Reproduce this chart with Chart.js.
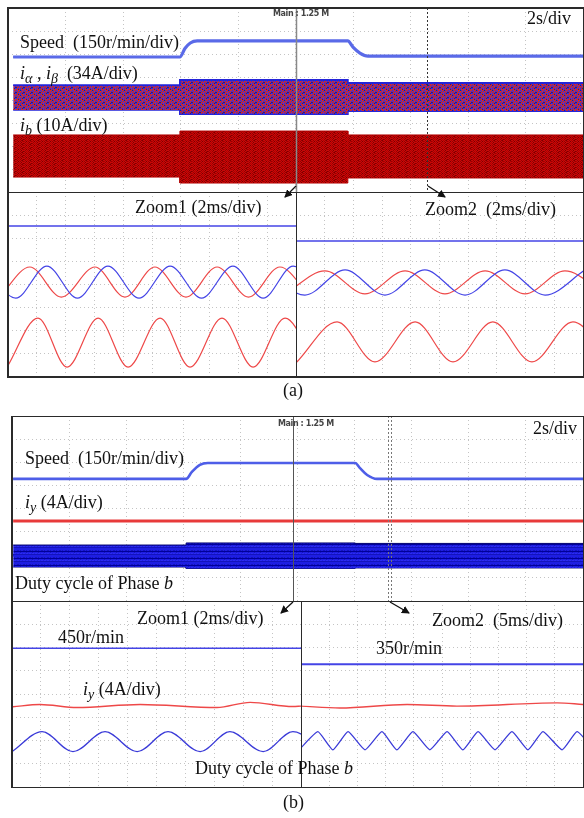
<!DOCTYPE html>
<html>
<head>
<meta charset="utf-8">
<script src="https://cdn.jsdelivr.net/npm/chart.js@4.4.0/dist/chart.umd.min.js"></script>
<style>
body { margin:0; background:#fff; width:584px; height:818px; position:relative; overflow:hidden;
  font-family:"Liberation Serif","Times New Roman",serif; }
.plot { position:absolute; }
.lbl { position:absolute; font-size:18px; color:#111; white-space:nowrap; line-height:1; }
.lbl i { font-style:italic; }
.lbl sub { font-size:14px; vertical-align:-4px; line-height:0; }
.main { position:absolute; font:bold 8px "DejaVu Sans",sans-serif; color:#444; letter-spacing:-0.4px; white-space:nowrap; }
.ln { position:absolute; background:#2a2a2a; }
svg { position:absolute; left:0; top:0; }
</style>
</head>
<body>

<div class="plot" style="left:8px;top:8px;width:575px;height:184px"><canvas id="cATop"></canvas></div>
<div class="plot" style="left:8px;top:192px;width:288px;height:184px"><canvas id="cAZ1"></canvas></div>
<div class="plot" style="left:296px;top:192px;width:287px;height:184px"><canvas id="cAZ2"></canvas></div>
<div class="plot" style="left:12px;top:416px;width:571px;height:185px"><canvas id="cBTop"></canvas></div>
<div class="plot" style="left:12px;top:601px;width:289px;height:186px"><canvas id="cBZ1"></canvas></div>
<div class="plot" style="left:301px;top:601px;width:282px;height:186px"><canvas id="cBZ2"></canvas></div>

<!-- frame (a) -->
<div class="ln" style="left:7px;top:7px;width:577px;height:1.5px"></div>
<div class="ln" style="left:7px;top:376px;width:577px;height:1.5px"></div>
<div class="ln" style="left:7px;top:7px;width:1.5px;height:370px"></div>
<div class="ln" style="left:582.5px;top:7px;width:1.5px;height:370px"></div>
<div class="ln" style="left:7px;top:191.5px;width:577px;height:1.5px"></div>
<div class="ln" style="left:295.5px;top:192px;width:1.5px;height:185px"></div>
<!-- frame (b) -->
<div class="ln" style="left:11px;top:415.5px;width:573px;height:1.5px"></div>
<div class="ln" style="left:11px;top:786.5px;width:573px;height:1.5px"></div>
<div class="ln" style="left:11px;top:415.5px;width:1.5px;height:372px"></div>
<div class="ln" style="left:582.5px;top:415.5px;width:1.5px;height:372px"></div>
<div class="ln" style="left:11px;top:600.5px;width:573px;height:1.5px"></div>
<div class="ln" style="left:300.5px;top:601px;width:1.5px;height:187px"></div>

<svg width="584" height="818">
  <defs>
    <marker id="ah" markerWidth="8" markerHeight="8" refX="7" refY="4" orient="auto" markerUnits="userSpaceOnUse">
      <path d="M0,0 L8,4 L0,8 z" fill="#111"/>
    </marker>
  </defs>
  <line x1="296" y1="186" x2="285" y2="197" stroke="#111" stroke-width="1.3" marker-end="url(#ah)"/>
  <line x1="428" y1="186" x2="445" y2="197" stroke="#111" stroke-width="1.3" marker-end="url(#ah)"/>
  <line x1="293" y1="602" x2="281" y2="613" stroke="#111" stroke-width="1.3" marker-end="url(#ah)"/>
  <line x1="390" y1="602" x2="409" y2="613" stroke="#111" stroke-width="1.3" marker-end="url(#ah)"/>
</svg>

<!-- texts (a) -->
<div class="lbl" style="left:20px;top:33px">Speed&nbsp; (150r/min/div)</div>
<div class="lbl" style="left:20px;top:64px"><i>i</i><sub><i>α</i></sub> , <i>i</i><sub><i>β</i></sub>&nbsp; (34A/div)</div>
<div class="lbl" style="left:20px;top:116px"><i>i</i><sub><i>b</i></sub>&nbsp;(10A/div)</div>
<div class="main" style="left:273px;top:9px">Main : 1.25 M</div>
<div class="lbl" style="left:527px;top:9px">2s/div</div>
<div class="lbl" style="left:135px;top:198px">Zoom1 (2ms/div)</div>
<div class="lbl" style="left:425px;top:200px">Zoom2&nbsp; (2ms/div)</div>
<div class="lbl" style="left:283px;top:381px">(a)</div>

<!-- texts (b) -->
<div class="lbl" style="left:25px;top:449px">Speed&nbsp; (150r/min/div)</div>
<div class="lbl" style="left:25px;top:493px"><i>i</i><sub><i>y</i></sub> (4A/div)</div>
<div class="lbl" style="left:15px;top:574px">Duty cycle of Phase <i>b</i></div>
<div class="main" style="left:278px;top:419px">Main : 1.25 M</div>
<div class="lbl" style="left:533px;top:419px">2s/div</div>
<div class="lbl" style="left:137px;top:609px">Zoom1 (2ms/div)</div>
<div class="lbl" style="left:58px;top:628px">450r/min</div>
<div class="lbl" style="left:83px;top:680px"><i>i</i><sub><i>y</i></sub> (4A/div)</div>
<div class="lbl" style="left:195px;top:759px">Duty cycle of Phase <i>b</i></div>
<div class="lbl" style="left:432px;top:611px">Zoom2&nbsp; (5ms/div)</div>
<div class="lbl" style="left:376px;top:639px">350r/min</div>
<div class="lbl" style="left:283px;top:793px">(b)</div>

<script>
// all values in scope divisions: x 0..10, y 0..8 (bottom = 0)

// ---- (a) overview, 2 s/div ----
var aSpeedT = [0.09, 2.99, 3.08, 3.17, 3.29, 5.91, 6.00, 6.12, 6.26, 10];
var aSpeedV = [5.87, 5.87, 6.25, 6.48, 6.57, 6.57, 6.30, 6.04, 5.91, 5.91];
var aBandT  = [0.09, 2.99, 2.99, 5.91, 5.91, 10];
var aIabTop = [4.65, 4.65, 4.87, 4.87, 4.74, 4.74];
var aIabBot = [3.57, 3.57, 3.39, 3.39, 3.52, 3.52];
var aIbTop  = [2.48, 2.48, 2.65, 2.65, 2.48, 2.48];
var aIbBot  = [0.65, 0.65, 0.39, 0.39, 0.61, 0.61];
var aIbCoreTop = [2.00, 2.00, 2.10, 2.10, 2.00, 2.00];
var aIbCoreBot = [1.00, 1.00, 0.90, 0.90, 1.00, 1.00];
var aCursors = [5.01, 7.29];

// ---- (a) Zoom1, 2 ms/div ----
var az1SpeedT = [0, 10];
var az1SpeedV = [6.52, 6.52];
var az1AlphaT = [-0.30, 0.76, 1.85, 3.02, 4.06, 5.10, 6.18, 7.26, 8.35, 9.44, 10.5];
var az1AlphaV = [3.43, 4.74, 3.43, 4.74, 3.43, 4.74, 3.43, 4.74, 3.43, 4.74, 3.43];
var az1BetaT  = [-0.80, 0.27, 1.35, 2.41, 3.47, 4.55, 5.63, 6.72, 7.81, 8.86, 9.90, 11.0];
var az1BetaV  = [4.78, 3.39, 4.78, 3.39, 4.78, 3.39, 4.78, 3.39, 4.78, 3.39, 4.78, 3.39];
var az1IbT    = [-0.03, 1.04, 2.05, 3.13, 4.17, 5.28, 6.32, 7.43, 8.51, 9.62, 10.7];
var az1IbV    = [0.39, 2.52, 0.39, 2.52, 0.39, 2.52, 0.39, 2.52, 0.39, 2.52, 0.39];

// ---- (a) Zoom2, 2 ms/div ----
var az2SpeedT = [0, 10];
var az2SpeedV = [5.87, 5.87];
var az2AlphaT = [-0.38, 1.01, 2.40, 3.80, 5.19, 6.59, 7.98, 9.37, 10.77];
var az2AlphaV = [3.57, 4.57, 3.57, 4.57, 3.57, 4.57, 3.57, 4.57, 3.57];
var az2BetaT  = [-1.08, 0.31, 1.71, 3.10, 4.49, 5.89, 7.28, 8.68, 10.07];
var az2BetaV  = [4.61, 3.52, 4.61, 3.52, 4.61, 3.52, 4.61, 3.52, 4.61];
var az2IbT    = [0.03, 1.43, 2.75, 4.15, 5.47, 6.86, 8.22, 9.65, 11.0];
var az2IbV    = [0.61, 2.35, 0.61, 2.35, 0.61, 2.35, 0.61, 2.35, 0.61];

// ---- (b) overview, 2 s/div ----
var bSpeedT = [0.02, 3.05, 3.15, 3.29, 3.43, 6.01, 6.09, 6.22, 6.39, 10];
var bSpeedV = [5.28, 5.28, 5.58, 5.89, 5.97, 5.97, 5.76, 5.45, 5.28, 5.28];
var bIyT = [0.02, 10];
var bIyV = [3.46, 3.46];
var bBandT   = [0.02, 3.05, 3.05, 6.01, 6.01, 10];
var bDutyTop = [2.42, 2.42, 2.51, 2.51, 2.49, 2.49];
var bDutyBot = [1.47, 1.47, 1.41, 1.41, 1.43, 1.43];
var bDutyMid = [1.98, 1.98, 1.98, 1.98, 1.98, 1.98];
var bCursors = [4.92, 6.58, 6.64];

// ---- (b) Zoom1, 2 ms/div ----
var bz1SpeedT = [0, 10];
var bz1SpeedV = [5.97, 5.97];
var bz1IyT = [0.03, 0.97, 2.25, 4.43, 7.09, 8.24, 9.72, 10];
var bz1IyV = [3.45, 3.55, 3.42, 3.55, 3.42, 3.64, 3.46, 3.48];
var bz1DutyT = [0.00, 1.04, 2.11, 3.22, 4.33, 5.40, 6.51, 7.54, 8.69, 9.72, 10.8];
var bz1DutyV = [1.52, 2.38, 1.52, 2.38, 1.52, 2.38, 1.52, 2.38, 1.52, 2.38, 1.52];

// ---- (b) Zoom2, 5 ms/div ----
var bz2SpeedT = [0, 10];
var bz2SpeedV = [5.28, 5.28];
var bz2IyT = [0, 1.38, 3.76, 5.53, 9.08, 10];
var bz2IyV = [3.48, 3.40, 3.55, 3.48, 3.62, 3.55];
var bz2DutyT = [0, 0.60, 1.13, 1.67, 2.27, 2.87, 3.40, 3.97, 4.57, 5.18, 5.74, 6.28, 6.88, 7.48, 8.05, 8.58, 9.26, 9.79, 10.4];
var bz2DutyV = [1.69, 2.38, 1.60, 2.38, 1.60, 2.38, 1.60, 2.38, 1.60, 2.38, 1.60, 2.38, 1.60, 2.38, 1.60, 2.38, 1.60, 2.38, 1.60];

var BLUE = '#4444e6';
var RED = '#ee4848';

function xy(t, v) {
  return t.map(function (x, i) { return { x: x, y: v[i] }; });
}

function line(t, v, color, width, extra) {
  var ds = {
    data: xy(t, v), borderColor: color, borderWidth: width,
    pointRadius: 0, fill: false, cubicInterpolationMode: 'monotone'
  };
  return Object.assign(ds, extra || {});
}

// small tile made of letters -> palette colours, used as a fill pattern
function tile(rows, palette) {
  var c = document.createElement('canvas');
  c.width = rows[0].length;
  c.height = rows.length;
  var g = c.getContext('2d');
  rows.forEach(function (r, y) {
    for (var x = 0; x < r.length; x++) {
      g.fillStyle = palette[r[x]];
      g.fillRect(x, y, 1, 1);
    }
  });
  return g.createPattern(c, 'repeat');
}

// upper + lower envelope, filled between
function band(t, top, bot, fillStyle, edge, edgeW) {
  return [
    { data: xy(t, top), borderColor: edge, borderWidth: edgeW, pointRadius: 0, fill: '+1', backgroundColor: fillStyle, tension: 0 },
    { data: xy(t, bot), borderColor: edge, borderWidth: edgeW, pointRadius: 0, fill: false, tension: 0 }
  ];
}

var cursorPlugin = {
  id: 'cursors',
  afterDatasetsDraw: function (chart, args, opts) {
    var ctx = chart.ctx, a = chart.chartArea, xs = chart.scales.x;
    (opts.lines || []).forEach(function (c) {
      var px = Math.round(xs.getPixelForValue(c.x)) + 0.5;
      ctx.save();
      ctx.strokeStyle = c.color;
      ctx.lineWidth = c.width || 1;
      ctx.setLineDash(c.dash || []);
      ctx.beginPath();
      ctx.moveTo(px, a.top);
      ctx.lineTo(px, a.bottom);
      ctx.stroke();
      ctx.restore();
    });
  }
};

function scope(id, datasets, cursors) {
  var gridOpts = { color: '#c4c4c4', lineWidth: 1, drawTicks: false };
  return new Chart(document.getElementById(id), {
    type: 'line',
    data: { datasets: datasets },
    options: {
      responsive: true, maintainAspectRatio: false, animation: false,
      layout: { padding: 0 },
      plugins: { legend: { display: false }, tooltip: { enabled: false }, cursors: { lines: cursors || [] } },
      scales: {
        x: { type: 'linear', min: 0, max: 10, ticks: { display: false, stepSize: 1 },
             grid: gridOpts, border: { display: false, dash: [1, 3] },
             afterFit: function (s) { s.height = 0; } },
        y: { min: 0, max: 8, ticks: { display: false, stepSize: 1 },
             grid: gridOpts, border: { display: false, dash: [1, 3] },
             afterFit: function (s) { s.width = 0; } }
      }
    },
    plugins: [cursorPlugin]
  });
}

var iabFill = tile([
  'brbpbrdb',
  'rrdrbrrp',
  'bprrdbrr',
  'rbrbrrpb',
  'drrprbrd'
], { b: '#2e2ee2', r: '#cc2a2a', d: '#2a1888', p: '#8a2a9a' });

var ibFill = tile([
  'rdrmrdkr',
  'mrkrdrmd',
  'rdrmrkrr',
  'drmrdrmk'
], { r: '#c80808', d: '#960000', m: '#b00000', k: '#780000' });

var dutyFill = tile([
  'bbbbbb',
  'mbmbbm',
  'kkkkkk',
  'bbmbbb',
  'lbllbl',
  'mmmmmm',
  'bbbbbb'
], { b: '#1e1ee2', m: '#1414bc', k: '#00009a', l: '#2c2cf0' });

// (a) overview
scope('cATop',
  band(aBandT, aIabTop, aIabBot, iabFill, '#2424d8', 1.8)
    .concat(band(aBandT, aIbTop, aIbBot, ibFill, '#b00000', 1))
    .concat(band(aBandT, aIbCoreTop, aIbCoreBot, 'rgba(70,0,0,0.28)', 'rgba(0,0,0,0)', 0))
    .concat([
      line(aSpeedT, aSpeedV, '#5a6ae8', 3.2),
      line(aSpeedT, aSpeedV, '#2233a8', 1.2, { borderDash: [9, 7] })
    ]),
  [{ x: aCursors[0], color: '#888', width: 1.5 },
   { x: aCursors[1], color: '#333', width: 1, dash: [2, 2] }]
);

// (a) zoom 1
scope('cAZ1', [
  line(az1SpeedT, az1SpeedV, BLUE, 1.6),
  line(az1BetaT, az1BetaV, BLUE, 1.2),
  line(az1AlphaT, az1AlphaV, RED, 1.2),
  line(az1IbT, az1IbV, RED, 1.2)
]);

// (a) zoom 2
scope('cAZ2', [
  line(az2SpeedT, az2SpeedV, BLUE, 1.6),
  line(az2BetaT, az2BetaV, BLUE, 1.2),
  line(az2AlphaT, az2AlphaV, RED, 1.2),
  line(az2IbT, az2IbV, RED, 1.2)
]);

// (b) overview
scope('cBTop',
  band(bBandT, bDutyTop, bDutyBot, dutyFill, '#000070', 1)
    .concat([
      line(bBandT, bDutyMid, '#000080', 2.5, { tension: 0 }),
      line(bIyT, bIyV, '#e83a3a', 3.2),
      line(bSpeedT, bSpeedV, '#4e5ee8', 2.6),
      line(bSpeedT, bSpeedV, '#2233a8', 1.2, { borderDash: [9, 7] })
    ]),
  [{ x: bCursors[0], color: '#555', width: 1 },
   { x: bCursors[1], color: '#777', width: 1, dash: [2, 2] },
   { x: bCursors[2], color: '#777', width: 1, dash: [2, 2] }]
);

// (b) zoom 1
scope('cBZ1', [
  line(bz1SpeedT, bz1SpeedV, BLUE, 1.4),
  line(bz1IyT, bz1IyV, RED, 1.4),
  line(bz1DutyT, bz1DutyV, '#3a3ad8', 1.3)
]);

// (b) zoom 2
scope('cBZ2', [
  line(bz2SpeedT, bz2SpeedV, BLUE, 2),
  line(bz2IyT, bz2IyV, RED, 1.4),
  line(bz2DutyT, bz2DutyV, '#3a3ad8', 1.3, { cubicInterpolationMode: 'default', tension: 0.15 })
]);
</script>
</body>
</html>
